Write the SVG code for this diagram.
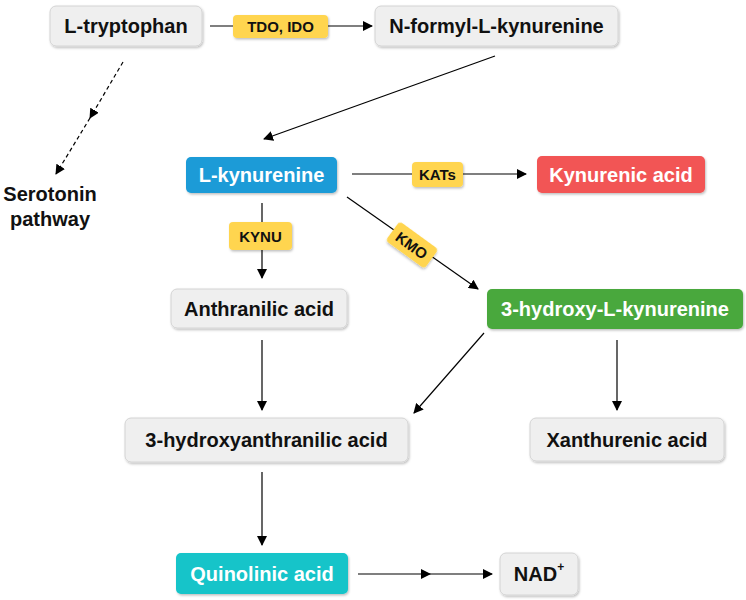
<svg xmlns="http://www.w3.org/2000/svg" width="746" height="600" viewBox="0 0 746 600">
<defs>
<marker id="ah" markerWidth="10" markerHeight="10" refX="9" refY="5" orient="auto" markerUnits="userSpaceOnUse"><path d="M0,0 L10,5 L0,10 z" fill="#000"/></marker>
<filter id="sh" x="-10%" y="-20%" width="120%" height="150%"><feDropShadow dx="1" dy="1.5" stdDeviation="1" flood-color="#000" flood-opacity="0.25"/></filter>
</defs>
<style>
.n{fill:#efefef;stroke:#d4d4d4;stroke-width:1;filter:url(#sh)}
.e{fill:#ffd54f;filter:url(#sh)}
text{font-family:"Liberation Sans",Arial,sans-serif;font-weight:bold;text-anchor:middle;dominant-baseline:central}
.t{font-size:20px;fill:#111}
.w{font-size:20px;fill:#fff}
.s{font-size:15px;fill:#111}
.c{stroke:#000;stroke-width:1.2;fill:none}
</style>
<rect width="746" height="600" fill="#fff"/>
<g id="connectors">
<line class="c" x1="210" y1="26" x2="372" y2="26" marker-end="url(#ah)"/>
<line class="c" x1="123" y1="62" x2="90" y2="118" stroke-dasharray="4,3" marker-end="url(#ah)"/>
<line class="c" x1="90" y1="118" x2="56" y2="174" stroke-dasharray="4,3" marker-end="url(#ah)"/>
<line class="c" x1="495" y1="56" x2="264" y2="139" marker-end="url(#ah)"/>
<line class="c" x1="352" y1="174" x2="526" y2="174" marker-end="url(#ah)"/>
<line class="c" x1="262" y1="203" x2="262" y2="278" marker-end="url(#ah)"/>
<line class="c" x1="347" y1="197" x2="478" y2="289" marker-end="url(#ah)"/>
<line class="c" x1="262" y1="340" x2="262" y2="410" marker-end="url(#ah)"/>
<line class="c" x1="484" y1="333" x2="414" y2="413" marker-end="url(#ah)"/>
<line class="c" x1="617" y1="340" x2="617" y2="410" marker-end="url(#ah)"/>
<line class="c" x1="262" y1="472" x2="262" y2="545" marker-end="url(#ah)"/>
<line class="c" x1="358" y1="574" x2="430" y2="574" marker-end="url(#ah)"/>
<line class="c" x1="430" y1="574" x2="492" y2="574" marker-end="url(#ah)"/>
</g>
<g id="enzymes">
<g id="tdo"><rect class="e" x="233" y="15" width="95" height="23" rx="4"/><text class="s" x="280.5" y="26.5">TDO, IDO</text></g>
<g id="kats"><rect class="e" x="412" y="162" width="51" height="25" rx="4"/><text class="s" x="437.5" y="174.5">KATs</text></g>
<g id="kynu"><rect class="e" x="229" y="222" width="63" height="28" rx="4"/><text class="s" x="260.5" y="236">KYNU</text></g>
<g id="kmo" transform="translate(412,245) rotate(36)"><rect class="e" x="-24" y="-12" width="48" height="24" rx="4"/><text class="s" x="0" y="0.5">KMO</text></g>
</g>
<g id="trp"><rect class="n" x="50" y="6" width="152" height="40" rx="6"/><text class="t" x="126" y="26">L-tryptophan</text></g>
<g id="nfk"><rect class="n" x="375" y="6" width="243" height="40" rx="6"/><text class="t" x="496.5" y="26">N-formyl-L-kynurenine</text></g>
<g id="sero"><text class="t" x="50" y="194">Serotonin</text><text class="t" x="50" y="219">pathway</text></g>
<g id="kyn"><rect x="186" y="157" width="151" height="36" rx="5" fill="#1a9bd7" filter="url(#sh)"/><text class="w" x="261.5" y="175">L-kynurenine</text></g>
<g id="kyna"><rect x="537" y="156" width="168" height="37" rx="5" fill="#f25454" filter="url(#sh)"/><text class="w" x="621" y="174.5">Kynurenic acid</text></g>
<g id="aa"><rect class="n" x="171" y="289" width="176" height="39" rx="6"/><text class="t" x="259" y="308.5">Anthranilic acid</text></g>
<g id="hk"><rect x="487" y="289" width="256" height="40" rx="5" fill="#4aa83e" filter="url(#sh)"/><text class="w" x="615" y="309">3-hydroxy-L-kynurenine</text></g>
<g id="haa"><rect class="n" x="125" y="418" width="283" height="44" rx="6"/><text class="t" x="266.5" y="440">3-hydroxyanthranilic acid</text></g>
<g id="xa"><rect class="n" x="530" y="418" width="194" height="43" rx="6"/><text class="t" x="627" y="439.5">Xanthurenic acid</text></g>
<g id="qa"><rect x="176" y="553" width="172" height="41" rx="5" fill="#12c4c9" filter="url(#sh)"/><text class="w" x="262" y="573.5">Quinolinic acid</text></g>
<g id="nad"><rect class="n" x="500" y="553" width="78" height="42" rx="6"/><text class="t" x="539" y="574">NAD<tspan font-size="12" dy="-7">+</tspan></text></g>
</svg>
